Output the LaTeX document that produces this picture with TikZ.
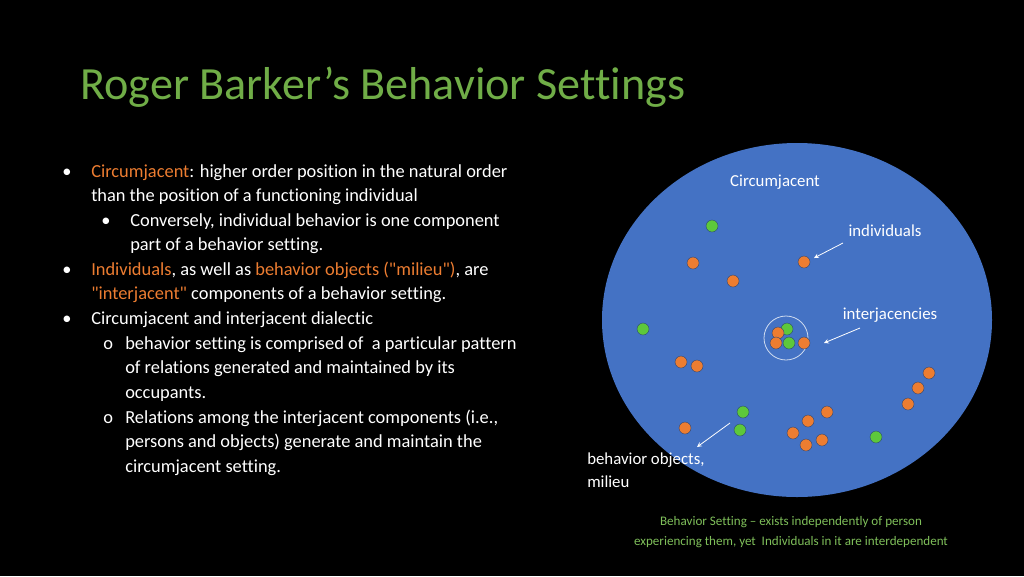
\documentclass[tikz,border=0pt]{standalone}
\usepackage{fontspec}
\setmainfont{Carlito}[Ligatures={NoCommon,TeXOff}]
\definecolor{ttl}{HTML}{70AD47}
\definecolor{acc}{HTML}{ED7D31}
\definecolor{disc}{HTML}{4472C4}
\definecolor{gdot}{HTML}{5DC83A}
\definecolor{cap}{HTML}{7FBF5A}
\newcommand{\dq}{\char34\relax}
\tikzset{
  txt/.style={text=white, anchor=base west, inner sep=0pt, font=\fontsize{13.8}{16}\selectfont},
  lbl/.style={text=white, inner sep=0pt, font=\fontsize{12.6}{16}\selectfont},
  gd/.style={circle, fill=gdot, draw=disc!60!black, line width=0.3pt, minimum size=9pt, inner sep=0pt},
  od/.style={circle, fill=acc, draw=disc!60!black, line width=0.3pt, minimum size=9pt, inner sep=0pt},
  pt/.style={->, white, line width=0.6pt, >=stealth}
}
\begin{document}
\begin{tikzpicture}[x=0.75pt,y=-0.75pt]
\fill[black] (0,0) rectangle (1024,576);
\useasboundingbox (0,0) rectangle (1024,576);

\node[anchor=base west, inner sep=0pt, text=ttl, font=\fontsize{34.6}{36}\selectfont] (title) at (80,99) {Roger Barker’s Behavior Settings};

% bullets
\node[txt] (b1) at (62,177) {•};
\node[txt] (b3) at (101,226) {•};
\node[txt] (b5) at (62,275) {•};
\node[txt] (b7) at (62,324) {•};
\node[txt] (b8) at (103,349) {o};
\node[txt] (b11) at (103,423) {o};

\node[txt] (l1) at (91,177) {\textcolor{acc}{Circumjacent}:  higher order position in the natural order};
\node[txt] (l2) at (91,201) {than the position of a functioning individual};
\node[txt] (l3) at (130,226) {Conversely, individual behavior is one component};
\node[txt] (l4) at (130,250) {part of a behavior setting.};
\node[txt] (l5) at (91,275) {\textcolor{acc}{Individuals}, as well as \textcolor{acc}{behavior objects (\dq milieu\dq )}, are};
\node[txt] (l6) at (91,299) {\textcolor{acc}{\dq interjacent\dq } components of a behavior setting.};
\node[txt] (l7) at (91,324) {Circumjacent and interjacent dialectic};
\node[txt] (l8) at (125,349) {behavior setting is comprised of\ \ a particular pattern};
\node[txt] (l9) at (125,373) {of relations generated and maintained by its};
\node[txt] (l10) at (125,398) {occupants.};
\node[txt] (l11) at (125,423) {Relations among the interjacent components (i.e.,};
\node[txt] (l12) at (125,447) {persons and objects) generate and maintain the};
\node[txt] (l13) at (125,472) {circumjacent setting.};

% setting
\fill[disc] (797,320) ellipse [x radius=195, y radius=177];
\draw[white!75!disc, line width=0.6pt] (786,338) circle (22);

\foreach \p [count=\i] in {(712,226),(643,329),(787,329),(789,343),(743,412),(740,430),(876,437)}
  \node[gd] (g\i) at \p {};
\foreach \p [count=\i] in {(693,263),(804,262),(733,281),(778,333),(776,343),(804,343),(681,362),(697,366),(929,373),(918,388),(908,404),(827,412),(808,421),(685,428),(793,433),(822,440),(806,445)}
  \node[od] (o\i) at \p {};

\node[lbl] (circ) at (775,182) {Circumjacent};
\node[lbl] (ind) at (885,231) {individuals};
\node[lbl] (inter) at (890,315) {interjacencies};
\node[lbl, anchor=west, align=left, font=\fontsize{12.6}{17.5}\selectfont] (beh) at (587,470) {behavior objects,\\milieu};

\coordinate (a1) at (843,243);
\coordinate (a2) at (860,328);
\coordinate (a3) at (730,423);
\coordinate (t1) at (814,258);
\coordinate (t2) at (824,343);
\coordinate (t3) at (697,447);
\draw[pt] (a1) -- (t1);
\draw[pt] (a2) -- (t2);
\draw[pt] (a3) -- (t3);

\node[text=cap, align=center, inner sep=0pt, font=\fontsize{9.8}{14.5}\selectfont] (caption) at (791,532)
  {Behavior Setting – exists independently of person\\experiencing them, yet\ \ Individuals in it are interdependent};
\end{tikzpicture}
\end{document}
